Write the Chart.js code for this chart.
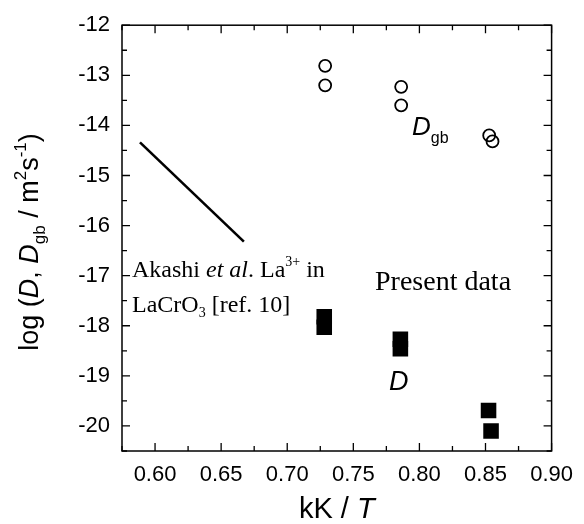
<!DOCTYPE html>
<html>
<head>
<meta charset="utf-8">
<script src="https://cdn.jsdelivr.net/npm/chart.js@4/dist/chart.umd.min.js"></script>
<style>
  html, body { margin: 0; padding: 0; background: #fff; }
  #wrap { width: 584px; height: 524px; }
</style>
</head>
<body>
<div id="wrap"><canvas id="c" width="584" height="524"></canvas></div>
<script>
"use strict";

// ── Data ──────────────────────────────────────────────────────────────
const gbX = [0.7287, 0.7287, 0.7862, 0.7862, 0.8528, 0.8553];   // D_gb, open circles
const gbY = [-12.81, -13.20, -13.23, -13.60, -14.20, -14.32];
const dX  = [0.728, 0.728, 0.7856, 0.7856, 0.8523, 0.8542];      // D, filled squares
const dY  = [-17.82, -18.03, -18.27, -18.46, -19.69, -20.10];
const refX = [0.5886, 0.6672];                                    // Akashi et al. line
const refY = [-14.34, -16.32];
const xTicks = [0.60, 0.65, 0.70, 0.75, 0.80, 0.85, 0.90];
const yTicks = [-20, -19, -18, -17, -16, -15, -14, -13, -12];

const pts = (xs, ys) => xs.map((x, i) => ({ x, y: ys[i] }));

const SANS = '"Liberation Sans", Arial, sans-serif';
const SERIF = '"Liberation Serif", "Times New Roman", serif';

// draw a run of text pieces (sub/superscripts) left to right
function drawRuns(ctx, x, y, runs) {
  runs.forEach(r => {
    ctx.font = r.font;
    ctx.fillText(r.t, x, y + (r.dy || 0));
    x += ctx.measureText(r.t).width;
  });
}
function runsWidth(ctx, runs) {
  return runs.reduce((w, r) => { ctx.font = r.font; return w + ctx.measureText(r.t).width; }, 0);
}

// ── Frame, inward ticks, titles and labels ────────────────────────────
const decor = {
  id: 'decor',
  afterDraw(chart) {
    const { ctx, chartArea: { left, right, top, bottom }, scales: { x, y } } = chart;
    ctx.save();
    ctx.strokeStyle = '#000';
    ctx.lineWidth = 1.5;
    ctx.strokeRect(left, top, right - left, bottom - top);

    ctx.lineWidth = 1.3;
    ctx.beginPath();
    for (let v = 0.575; v < 0.9001; v += 0.025) {
      const major = Math.abs(Math.round(v * 20) - v * 20) < 1e-6;
      const L = major ? 8 : 5;
      const px = x.getPixelForValue(v);
      ctx.moveTo(px, bottom); ctx.lineTo(px, bottom - L);
      ctx.moveTo(px, top);    ctx.lineTo(px, top + L);
    }
    for (let v = -20.5; v <= -12; v += 0.5) {
      const L = Number.isInteger(v) ? 8 : 5;
      const py = y.getPixelForValue(v);
      ctx.moveTo(left, py);  ctx.lineTo(left + L, py);
      ctx.moveTo(right, py); ctx.lineTo(right - L, py);
    }
    ctx.stroke();

    ctx.fillStyle = '#000';
    ctx.textBaseline = 'alphabetic';
    ctx.textAlign = 'left';

    // x title
    const xt = [
      { t: 'kK / ', font: `29px ${SANS}` },
      { t: 'T', font: `italic 29px ${SANS}` },
    ];
    drawRuns(ctx, (left + right) / 2 - runsWidth(ctx, xt) / 2, 518, xt);

    // y title (rotated)
    const yt = [
      { t: 'log (', font: `27px ${SANS}` },
      { t: 'D', font: `italic 27px ${SANS}` },
      { t: ', ', font: `27px ${SANS}` },
      { t: 'D', font: `italic 27px ${SANS}` },
      { t: 'gb', font: `17px ${SANS}`, dy: 7 },
      { t: ' / m', font: `27px ${SANS}` },
      { t: '2', font: `17px ${SANS}`, dy: -12 },
      { t: 's', font: `27px ${SANS}` },
      { t: '-1', font: `17px ${SANS}`, dy: -12 },
      { t: ')', font: `27px ${SANS}` },
    ];
    ctx.save();
    ctx.translate(38, 242);
    ctx.rotate(-Math.PI / 2);
    drawRuns(ctx, -runsWidth(ctx, yt) / 2, 0, yt);
    ctx.restore();

    // annotations
    drawRuns(ctx, 412, 135, [
      { t: 'D', font: `italic 26px ${SANS}` },
      { t: 'gb', font: `16px ${SANS}`, dy: 8 },
    ]);
    drawRuns(ctx, 389, 390, [{ t: 'D', font: `italic 27px ${SANS}` }]);
    drawRuns(ctx, 375, 290, [{ t: 'Present data', font: `28px ${SERIF}` }]);
    drawRuns(ctx, 132, 277, [
      { t: 'Akashi ', font: `24px ${SERIF}` },
      { t: 'et al', font: `italic 24px ${SERIF}` },
      { t: '. La', font: `24px ${SERIF}` },
      { t: '3+', font: `14px ${SERIF}`, dy: -11 },
      { t: ' in', font: `24px ${SERIF}` },
    ]);
    drawRuns(ctx, 132, 312, [
      { t: 'LaCrO', font: `24px ${SERIF}` },
      { t: '3', font: `14px ${SERIF}`, dy: 5 },
      { t: ' [ref. 10]', font: `24px ${SERIF}` },
    ]);
    ctx.restore();
  }
};

// ── Chart ─────────────────────────────────────────────────────────────
new Chart(document.getElementById('c').getContext('2d'), {
  type: 'scatter',
  data: {
    datasets: [
      {
        data: pts(refX, refY),
        showLine: true,
        borderColor: '#000',
        borderWidth: 2.6,
        pointRadius: 0,
      },
      {
        data: pts(gbX, gbY),
        pointStyle: 'circle',
        pointRadius: 6,
        pointBorderWidth: 1.8,
        pointBorderColor: '#000',
        pointBackgroundColor: 'rgba(255,255,255,0)',
      },
      {
        data: pts(dX, dY),
        pointStyle: 'rect',
        pointRadius: 11,
        pointBorderWidth: 0,
        pointBackgroundColor: '#000',
      },
    ]
  },
  options: {
    responsive: false,
    animation: false,
    events: [],
    layout: { padding: { top: 22, right: 30, left: 0, bottom: 0 } },
    plugins: { legend: { display: false }, tooltip: { enabled: false } },
    scales: {
      x: {
        type: 'linear', min: 0.575, max: 0.90,
        afterBuildTicks: s => { s.ticks = xTicks.map(v => ({ value: v })); },
        afterFit: s => { s.height = 73; },
        grid: { display: false, drawTicks: false },
        border: { display: false },
        ticks: { color: '#000', padding: 11, maxRotation: 0, font: { size: 22, family: SANS },
                 callback: v => v.toFixed(2) },
      },
      y: {
        type: 'linear', min: -20.5, max: -12,
        afterBuildTicks: s => { s.ticks = yTicks.map(v => ({ value: v })); },
        afterFit: s => { s.width = 122; },
        grid: { display: false, drawTicks: false },
        border: { display: false },
        ticks: { color: '#000', padding: 12, font: { size: 22, family: SANS },
                 callback: v => String(v) },
      }
    }
  },
  plugins: [decor]
});
</script>
</body>
</html>
